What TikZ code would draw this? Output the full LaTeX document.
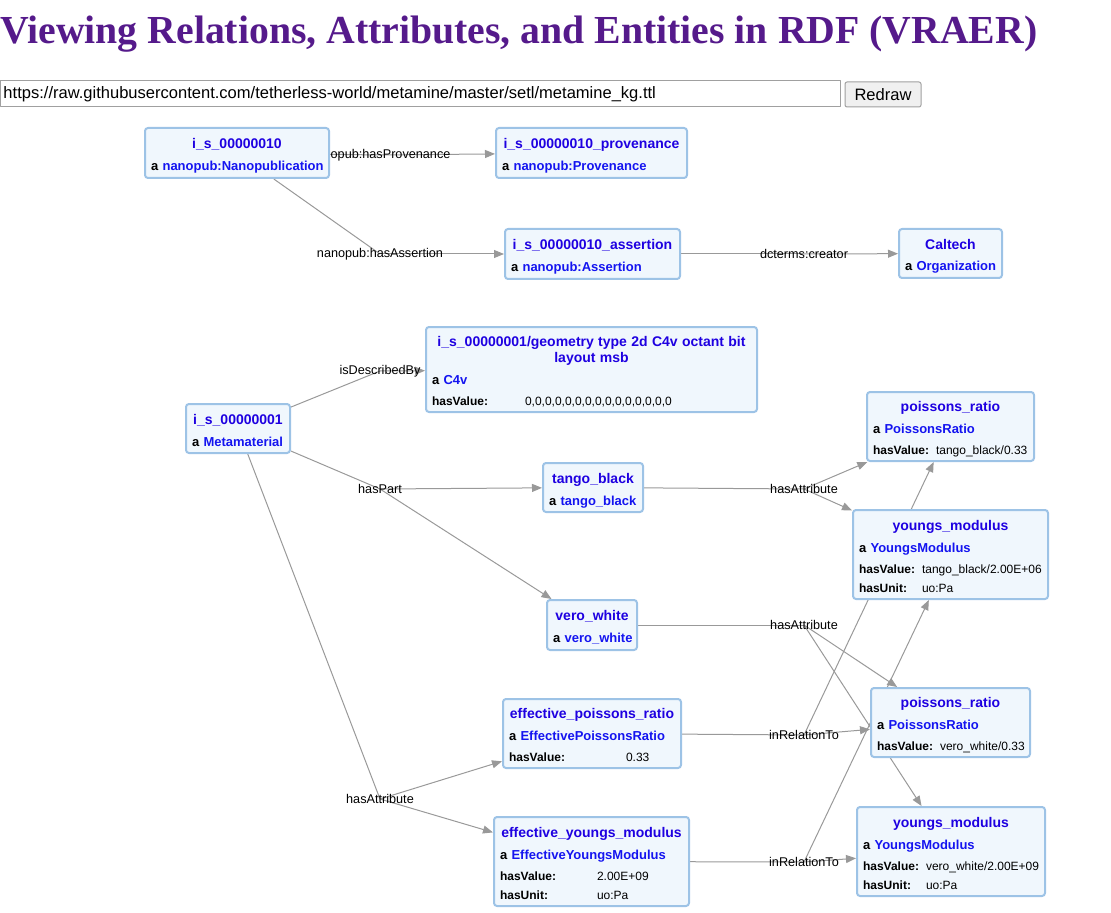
\documentclass[tikz,border=0pt]{standalone}
\usepackage{fontspec}
\setmainfont{Liberation Sans}
\newfontfamily\headfont{Liberation Serif}
\usetikzlibrary{arrows.meta,backgrounds}

\definecolor{headpurple}{RGB}{85,26,139}
\definecolor{nodefill}{RGB}{240,247,253}
\definecolor{nodeline}{RGB}{157,195,230}
\definecolor{nameblue}{RGB}{30,0,225}
\definecolor{typeblue}{RGB}{20,20,240}
\definecolor{linkgray}{RGB}{153,153,153}
\definecolor{fieldline}{RGB}{160,160,160}

% Struts fixing the first and last line of a node.
\newcommand{\tstrut}{\rule{0pt}{12.5pt}}
\newcommand{\bstrut}{\rule[-2.75pt]{0pt}{2.75pt}}
\newcommand{\nname}[1]{{\fontsize{10.5pt}{14.25pt}\selectfont\bfseries\color{nameblue}#1}}
\newcommand{\ntype}[1]{\makebox[\linewidth][l]{\bfseries a \textcolor{typeblue}{#1}}}
\newcommand{\nprop}[3]{\makebox[\linewidth][l]{\fontsize{9pt}{14.25pt}\selectfont\makebox[#1][l]{\textbf{#2}}#3}}

\begin{document}
\begin{tikzpicture}[
  x=0.75pt,
  y=-0.75pt,
  line join=round,
  entity/.style n args={3}{rectangle,rounded corners=2.25pt,draw=nodeline,
    line width=1.5pt,fill=nodefill,inner xsep=4.5pt,inner ysep=0pt,
    minimum width=#1pt,text width=#2pt,minimum height=#3pt,align=center,
    font=\fontsize{9.75pt}{14.25pt}\selectfont},
  elabel/.style={inner sep=0pt,font=\fontsize{9.5pt}{11pt}\selectfont},
  link/.style={draw=linkgray,line width=0.75pt},
  linkarrow/.style={link,-{Triangle[length=7.5pt,width=6pt]}}
]
  \useasboundingbox (0,0) rectangle (1111,913);

  % Page header.
  \node[anchor=base west,inner sep=0pt,text=headpurple,
    font=\headfont\bfseries\fontsize{29.8pt}{32pt}\selectfont] (title) at (0,44)
    {Viewing Relations, Attributes, and Entities in RDF (VRAER)};
  \node[anchor=west,draw=fieldline,line width=0.75pt,minimum width=630pt,
    minimum height=19.5pt,inner xsep=2.25pt,text width=625.5pt,align=left,
    font=\fontsize{12.4pt}{14pt}\selectfont] (urlfield) at (0,94)
    {https://raw.githubusercontent.com/tetherless-world/metamine/master/setl/metamine\_kg.ttl};
  \node[draw=fieldline,fill=black!6,line width=0.75pt,rounded corners=1.5pt,
    minimum width=57pt,minimum height=18.75pt,inner sep=0pt,
    font=\fontsize{12.4pt}{14pt}\selectfont] (redraw) at (883,94.5) {Redraw};

  % Edge labels.
  \node[elabel] (lprov) at (380,155) {nanopub:hasProvenance};
  \node[elabel] (lasrt) at (380,254) {nanopub:hasAssertion};
  \node[elabel] (lcre) at (804,254) {dcterms:creator};
  \node[elabel] (ldesc) at (380,371) {isDescribedBy};
  \node[elabel] (lpart) at (380,489) {hasPart};
  \node[elabel] (lattr) at (380,799) {hasAttribute};
  \node[elabel] (ltbattr) at (804,489) {hasAttribute};
  \node[elabel] (lvwattr) at (804,625) {hasAttribute};
  \node[elabel] (leprrel) at (804,735) {inRelationTo};
  \node[elabel] (leymrel) at (804,862) {inRelationTo};

  % Entities.
  \node[entity={138}{129}{37.5}] (n10) at (237,153)
    {\tstrut\nname{i\_s\_00000010}\\[2.25pt]\ntype{nanopub:Nanopublication}\bstrut};
  \node[entity={143.25}{134.25}{37.5}] (prov) at (591.5,153)
    {\tstrut\nname{i\_s\_00000010\_provenance}\\[2.25pt]\ntype{nanopub:Provenance}\bstrut};
  \node[entity={131.25}{122.25}{37.5}] (asrt) at (592.5,254)
    {\tstrut\nname{i\_s\_00000010\_assertion}\\[2.25pt]\ntype{nanopub:Assertion}\bstrut};
  \node[entity={77.25}{68.25}{36.75}] (caltech) at (950.5,253.5)
    {\tstrut\nname{Caltech}\\[2.25pt]\ntype{Organization}\bstrut};
  \node[entity={248.25}{239.25}{63.75}] (geom) at (591.5,369.5)
    {\tstrut\nname{i\_s\_00000001/geometry type 2d C4v octant bit}\\[-2.25pt]\nname{layout msb}\\[2.25pt]%
     \ntype{C4v}\\[1.5pt]\nprop{69.75pt}{hasValue:}{0,0,0,0,0,0,0,0,0,0,0,0,0,0,0}\bstrut};
  \node[entity={78}{69}{36.75}] (n01) at (238,428.5)
    {\tstrut\nname{i\_s\_00000001}\\[2.25pt]\ntype{Metamaterial}\bstrut};
  \node[entity={125.25}{116.25}{51.75}] (pr1) at (950.5,426.5)
    {\tstrut\nname{poissons\_ratio}\\[2.25pt]\ntype{PoissonsRatio}\\[1.5pt]%
     \nprop{47.25pt}{hasValue:}{tango\_black/0.33}\bstrut};
  \node[entity={75}{66}{36.75}] (tb) at (593,487.5)
    {\tstrut\nname{tango\_black}\\[2.25pt]\ntype{tango\_black}\bstrut};
  \node[entity={146.25}{137.25}{66.75}] (ym1) at (950.5,554.5)
    {\tstrut\nname{youngs\_modulus}\\[2.25pt]\ntype{YoungsModulus}\\[1.5pt]%
     \nprop{47.25pt}{hasValue:}{tango\_black/2.00E+06}\\\nprop{47.25pt}{hasUnit:}{uo:Pa}\bstrut};
  \node[entity={67.5}{58.5}{37.5}] (vw) at (592,625)
    {\tstrut\nname{vero\_white}\\[2.25pt]\ntype{vero\_white}\bstrut};
  \node[entity={119.25}{110.25}{51.75}] (pr2) at (950.5,722.5)
    {\tstrut\nname{poissons\_ratio}\\[2.25pt]\ntype{PoissonsRatio}\\[1.5pt]%
     \nprop{47.25pt}{hasValue:}{vero\_white/0.33}\bstrut};
  \node[entity={133.5}{124.5}{51.75}] (epr) at (592,733.5)
    {\tstrut\nname{effective\_poissons\_ratio}\\[2.25pt]\ntype{EffectivePoissonsRatio}\\[1.5pt]%
     \nprop{87.75pt}{hasValue:}{0.33}\bstrut};
  \node[entity={146.25}{137.25}{66.75}] (eym) at (591.5,861.5)
    {\tstrut\nname{effective\_youngs\_modulus}\\[2.25pt]\ntype{EffectiveYoungsModulus}\\[1.5pt]%
     \nprop{72.75pt}{hasValue:}{2.00E+09}\\\nprop{72.75pt}{hasUnit:}{uo:Pa}\bstrut};
  \node[entity={141}{132}{66.75}] (ym2) at (951,851.5)
    {\tstrut\nname{youngs\_modulus}\\[2.25pt]\ntype{YoungsModulus}\\[1.5pt]%
     \nprop{47.25pt}{hasValue:}{vero\_white/2.00E+09}\\\nprop{47.25pt}{hasUnit:}{uo:Pa}\bstrut};

  % Connectors run behind the boxes.
  \begin{pgfonlayer}{background}
    \foreach \s/\l in {n10/lprov,n10/lasrt,asrt/lcre,n01/ldesc,n01/lpart,n01/lattr,
                       tb/ltbattr,vw/lvwattr,epr/leprrel,eym/leymrel}
      \draw[link] (\s) -- (\l.center);
    \foreach \l/\t in {lprov/prov,lasrt/asrt,lcre/caltech,ldesc/geom,lpart/tb,lpart/vw,
                       lattr/epr,lattr/eym,ltbattr/pr1,ltbattr/ym1,lvwattr/pr2,lvwattr/ym2,
                       leprrel/pr2,leprrel/pr1,leymrel/ym2,leymrel/ym1}
      \draw[linkarrow] (\l.center) -- (\t);
  \end{pgfonlayer}
\end{tikzpicture}
\end{document}
